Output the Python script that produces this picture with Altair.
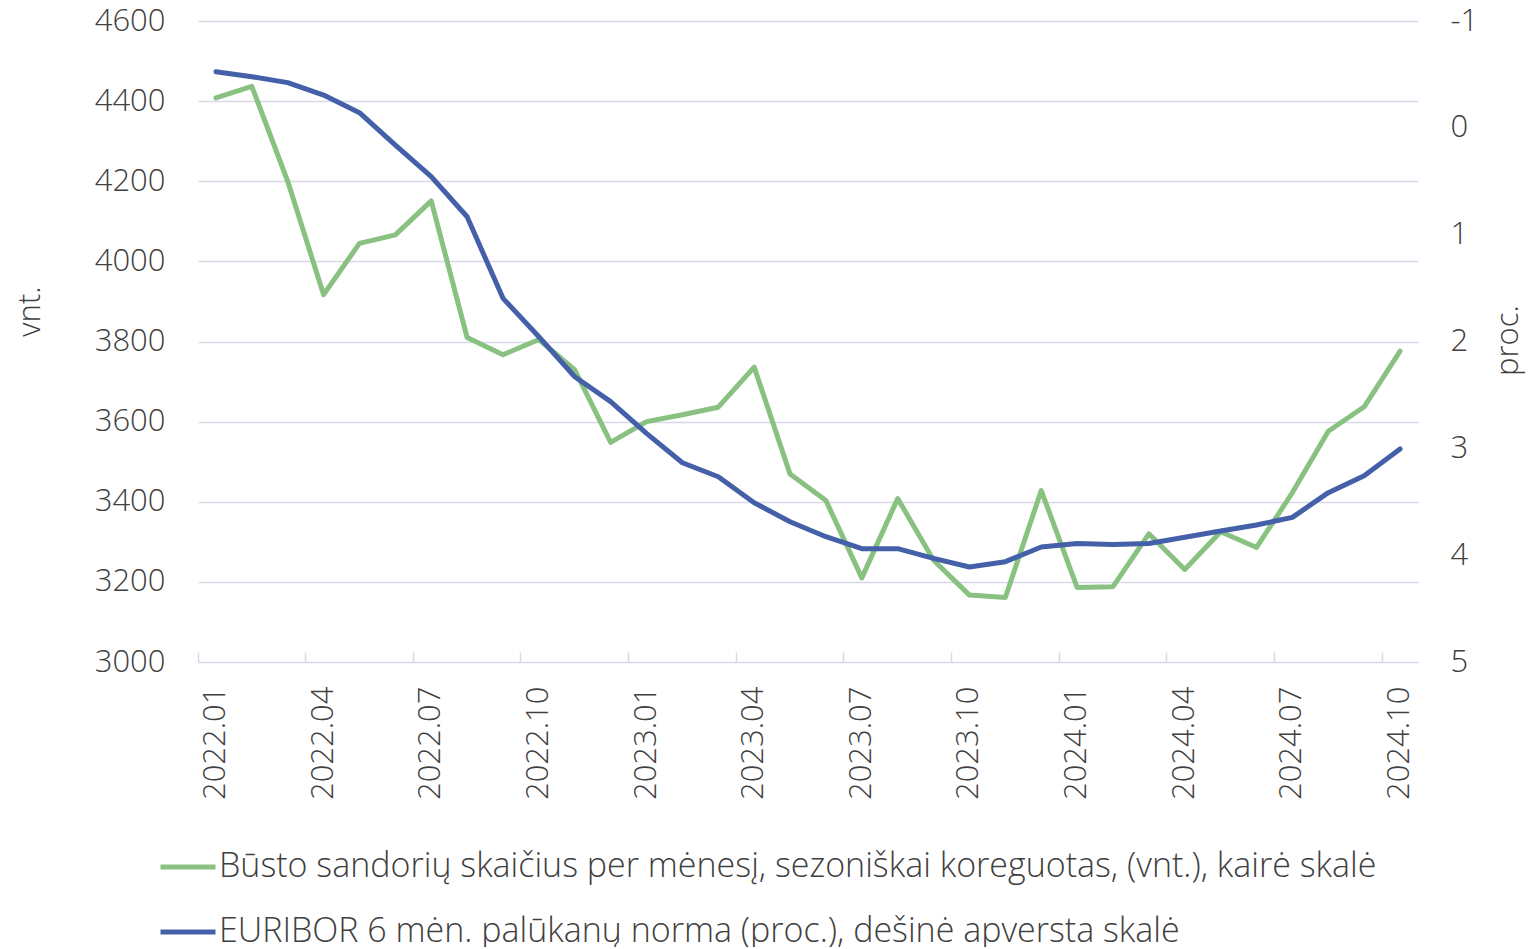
import altair as alt
import pandas as pd

months = [
    "2022.01", "2022.02", "2022.03", "2022.04", "2022.05", "2022.06",
    "2022.07", "2022.08", "2022.09", "2022.10", "2022.11", "2022.12",
    "2023.01", "2023.02", "2023.03", "2023.04", "2023.05", "2023.06",
    "2023.07", "2023.08", "2023.09", "2023.10", "2023.11", "2023.12",
    "2024.01", "2024.02", "2024.03", "2024.04", "2024.05", "2024.06",
    "2024.07", "2024.08", "2024.09", "2024.10",
]
tick_months = [
    "2022.01", "2022.04", "2022.07", "2022.10", "2023.01", "2023.04",
    "2023.07", "2023.10", "2024.01", "2024.04", "2024.07", "2024.10",
]
transactions = [
    4408, 4437, 4200, 3917, 4045, 4066, 4151, 3810, 3767, 3805, 3729, 3548,
    3600, 3617, 3636, 3736, 3469, 3403, 3210, 3408, 3254, 3167, 3161, 3428,
    3186, 3188, 3320, 3231, 3325, 3286, 3423, 3576, 3637, 3776,
]
euribor = [
    -0.525, -0.479, -0.423, -0.307, -0.142, 0.161, 0.457, 0.832, 1.596, 1.955,
    2.330, 2.563, 2.860, 3.135, 3.266, 3.509, 3.687, 3.827, 3.939, 3.939,
    4.030, 4.111, 4.061, 3.924, 3.890, 3.899, 3.890, 3.833, 3.774, 3.718,
    3.646, 3.415, 3.256, 3.006,
]
left_ticks = [3000, 3200, 3400, 3600, 3800, 4000, 4200, 4400, 4600]
right_ticks = [-1, 0, 1, 2, 3, 4, 5]

GREEN_NAME = "Būsto sandorių skaičius per mėnesį, sezoniškai koreguotas, (vnt.), kairė skalė"
BLUE_NAME = "EURIBOR 6 mėn. palūkanų norma (proc.), dešinė apversta skalė"

GREEN = "#88C180"
BLUE = "#4360A8"
GRID = "#D9D8E8"
TEXT = "#404040"
FONT = "Open Sans"
FW = 300
FS = 31
LEG_FS = 34

df_g = pd.DataFrame({"month": months, "value": transactions, "series": GREEN_NAME})
df_b = pd.DataFrame({"month": months, "value": euribor, "series": BLUE_NAME})

x_enc = alt.X(
    "month:O",
    sort=months,
    scale=alt.Scale(type="band", paddingInner=0, paddingOuter=0),
    axis=alt.Axis(
        values=tick_months, bandPosition=0, tickExtra=False, domain=False, grid=False,
        offset=-10, tickSize=10, tickColor=GRID, tickWidth=1.5,
        labelAngle=270, labelPadding=24, labelFontSize=FS, labelFont=FONT,
        labelFontWeight=FW, labelColor=TEXT, title=None,
    ),
)

color_enc = alt.Color(
    "series:N",
    scale=alt.Scale(domain=[GREEN_NAME, BLUE_NAME], range=[GREEN, BLUE]),
    legend=alt.Legend(
        title=None, orient="none", legendX=-40, legendY=816, direction="vertical",
        symbolType="stroke", symbolSize=3025, symbolStrokeWidth=5,
        labelFontSize=LEG_FS, labelFont=FONT, labelFontWeight=FW, labelColor=TEXT,
        labelLimit=0, labelOffset=1, rowPadding=18,
    ),
)

green_line = alt.Chart(df_g).mark_line(
    strokeWidth=5, strokeCap="round", strokeJoin="round"
).encode(
    x=x_enc,
    y=alt.Y(
        "value:Q",
        scale=alt.Scale(domain=[3000, 4600], nice=False, zero=False),
        axis=alt.Axis(
            values=left_ticks, format="d", grid=True, gridColor=GRID, gridWidth=1.5,
            domain=False, ticks=False, labelPadding=33, labelFontSize=FS,
            labelFont=FONT, labelFontWeight=FW, labelColor=TEXT,
            title="vnt.", titleX=-168, titleY=290, titleAngle=270,
            titleAlign="center", titleBaseline="middle", titleFontSize=FS,
            titleFont=FONT, titleFontWeight=FW, titleColor=TEXT,
        ),
    ),
    color=color_enc,
)

blue_line = alt.Chart(df_b).mark_line(
    strokeWidth=5, strokeCap="round", strokeJoin="round"
).encode(
    x=x_enc,
    y=alt.Y(
        "value:Q",
        scale=alt.Scale(domain=[-1, 5], reverse=True, nice=False, zero=False),
        axis=alt.Axis(
            orient="right", values=right_ticks, labelExpr="'' + datum.value",
            grid=False, domain=False,
            ticks=False, labelPadding=32, labelAlign="left", labelFontSize=FS,
            labelFont=FONT, labelFontWeight=FW, labelColor=TEXT,
            title="proc.", titleX=90, titleY=319, titleAngle=270,
            titleAlign="center", titleBaseline="middle", titleFontSize=FS,
            titleFont=FONT, titleFontWeight=FW, titleColor=TEXT,
        ),
    ),
    color=color_enc,
)

chart = alt.layer(green_line, blue_line).resolve_scale(y="independent").properties(
    width=1220,
    height=641,
    autosize=alt.AutoSizeParams(type="none"),
    padding={"left": 190, "top": 13, "right": 109, "bottom": 285},
).configure_view(stroke=None)

chart.save("out.html", embed_options={"renderer": "svg", "actions": False})
